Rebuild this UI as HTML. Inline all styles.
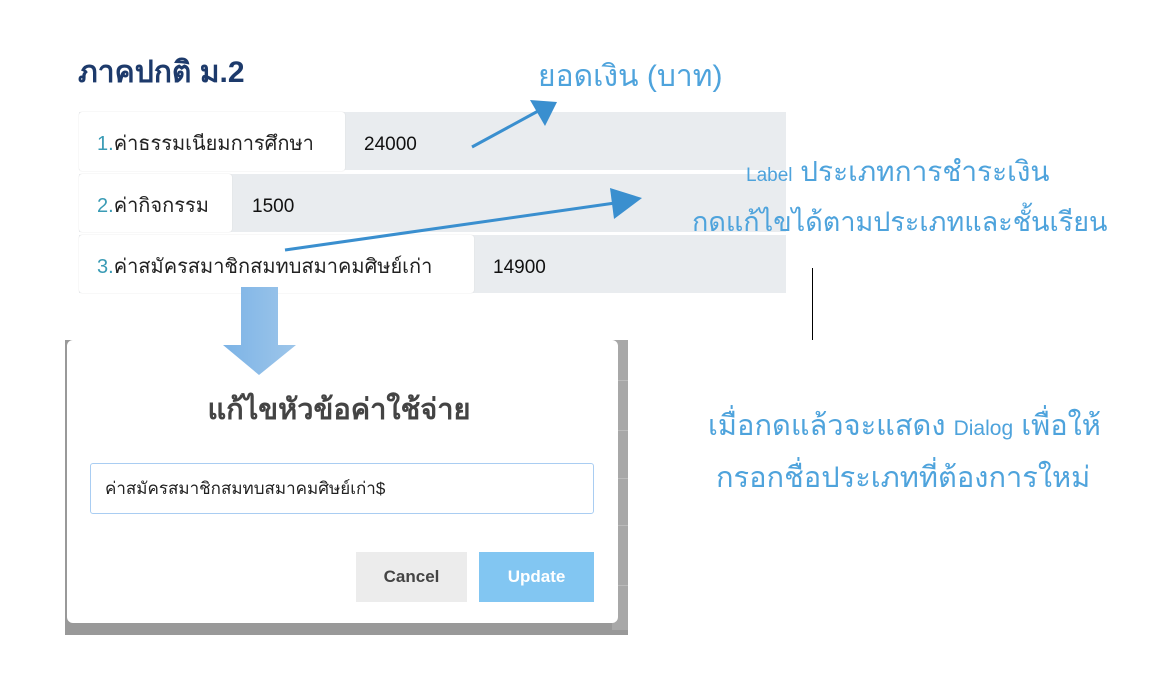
<!DOCTYPE html>
<html><head><meta charset="utf-8"><style>
body{margin:0;width:1154px;height:673px;background:#fff;position:relative;overflow:hidden;font-family:"Liberation Sans","DejaVu Sans",sans-serif}
.a{position:absolute;white-space:nowrap}
.lbl{position:absolute;background:#fff;border-radius:3px;box-shadow:0 0 1px #ccc;font-size:20px;color:#222;line-height:64px;padding-left:18px;box-sizing:border-box;overflow:hidden}
.lbl b{font-weight:normal;color:#3a9bb5}
.row{position:absolute;left:79px;width:707px;background:#e9ecef;height:58px}
.val{position:absolute;font-size:19px;color:#111;line-height:62px}
.blue{color:#4ea3dc}
</style></head><body>
<div class="a" style="left:78px;top:49px;font-size:30px;font-weight:bold;color:#1d3a6b">ภาคปกติ ม.2</div>
<div class="a blue" style="left:538px;top:53px;font-size:30px">ยอดเงิน (บาท)</div>

<div class="row" style="top:112px"></div>
<div class="lbl" style="left:79px;top:112px;width:266px;height:59px"><b>1.</b>ค่าธรรมเนียมการศึกษา</div>
<div class="val" style="left:364px;top:114px">24000</div>
<div class="row" style="top:174px"></div>
<div class="lbl" style="left:79px;top:174px;width:153px;height:58px"><b>2.</b>ค่ากิจกรรม</div>
<div class="val" style="left:252px;top:176px">1500</div>
<div class="row" style="top:235px"></div>
<div class="lbl" style="left:79px;top:235px;width:395px;height:58px"><b>3.</b>ค่าสมัครสมาชิกสมทบสมาคมศิษย์เก่า</div>
<div class="val" style="left:493px;top:237px">14900</div>

<div class="a blue" style="left:746px;top:150px;font-size:28px"><span style="font-size:19px">Label</span> ประเภทการชำระเงิน</div>
<div class="a blue" style="left:692px;top:200px;font-size:27px">กดแก้ไขได้ตามประเภทและชั้นเรียน</div>
<div class="a" style="left:812px;top:268px;width:1px;height:72px;background:#000"></div>
<div class="a blue" style="left:708px;top:402px;font-size:29px">เมื่อกดแล้วจะแสดง <span style="font-size:21px">Dialog</span> เพื่อให้</div>
<div class="a blue" style="left:716px;top:454px;font-size:29px">กรอกชื่อประเภทที่ต้องการใหม่</div>

<div class="a" style="left:65px;top:340px;width:563px;height:295px;background:#999"></div>
<div class="a" style="left:612px;top:340px;width:16px;height:290px;background:#a8a8a8"></div>
<div class="a" style="left:612px;top:380px;width:16px;height:1px;background:#bbb"></div>
<div class="a" style="left:612px;top:430px;width:16px;height:1px;background:#bbb"></div>
<div class="a" style="left:612px;top:478px;width:16px;height:1px;background:#bbb"></div>
<div class="a" style="left:612px;top:525px;width:16px;height:1px;background:#bbb"></div>
<div class="a" style="left:612px;top:585px;width:16px;height:1px;background:#bbb"></div>
<div class="a" style="left:67px;top:340px;width:551px;height:283px;background:#fff;border-radius:6px"></div>
<div class="a" style="left:0;top:386px;width:678px;text-align:center;font-size:29px;color:#444;font-weight:bold">แก้ไขหัวข้อค่าใช้จ่าย</div>
<div class="a" style="left:90px;top:463px;width:504px;height:51px;border:1px solid #a9cdf2;border-radius:3px;box-sizing:border-box;font-size:17px;line-height:49px;padding-left:14px;color:#222">ค่าสมัครสมาชิกสมทบสมาคมศิษย์เก่า$</div>
<div class="a" style="left:356px;top:552px;width:111px;height:50px;background:#ececec;text-align:center;line-height:50px;font-size:17px;font-weight:bold;color:#444">Cancel</div>
<div class="a" style="left:479px;top:552px;width:115px;height:50px;background:#82c6f2;text-align:center;line-height:50px;font-size:17px;font-weight:bold;color:#fff">Update</div>

<svg class="a" style="left:0;top:0" width="1154" height="673">
<defs><linearGradient id="g" x1="0" x2="1"><stop offset="0" stop-color="#7cb3e6"/><stop offset="1" stop-color="#9ec6ea"/></linearGradient></defs>
<polygon points="241,287 278,287 278,345 296,345 259,375 223,345 241,345" fill="url(#g)"/>
<g stroke="#3a8fcf" stroke-width="3" fill="#3a8fcf">
<line x1="472" y1="147" x2="540" y2="110"/>
<polygon points="530,100 557,102 545,126" stroke="none"/>
<line x1="285" y1="250" x2="615" y2="203"/>
<polygon points="610,188 642,198 614,219" stroke="none"/>
</g>
</svg>
</body></html>
